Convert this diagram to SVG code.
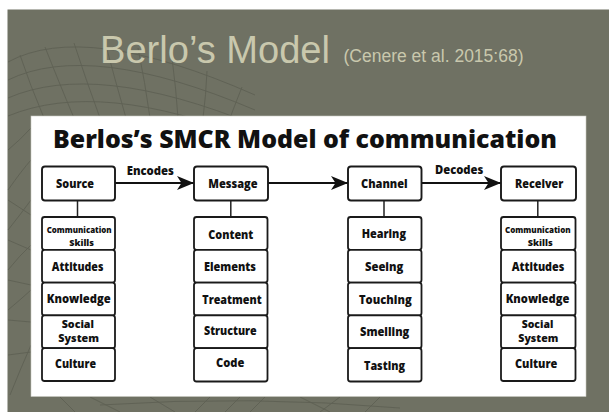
<svg xmlns="http://www.w3.org/2000/svg" width="609" height="412" viewBox="0 0 609 412">
  <defs>
    <style>
      .bg-grid { fill: none; stroke: #585a4e; stroke-width: 0.9; opacity: 0.7; }
      .box { fill: #ffffff; stroke: #1a1a1a; stroke-width: 1.9; }
      .cell { fill: #ffffff; stroke: #1a1a1a; stroke-width: 1.8; }
      .link { fill: none; stroke: #111111; stroke-width: 2.2; }
      .tie { fill: none; stroke: #222222; stroke-width: 1.5; }
      .lbl { font-family: "Open Sans", "Liberation Sans", sans-serif; font-weight: 800; font-size: 11.5px; fill: #111111; }
      .small { font-size: 8.3px; }
      .pair { font-size: 10.2px; }
      .head { font-family: "Liberation Sans", Arial, sans-serif; fill: #c9c8ad; }
    </style>
    <marker id="arrow" markerUnits="userSpaceOnUse" markerWidth="18" markerHeight="16" refX="17" refY="7.5" orient="auto">
      <path d="M0,0.5 L17,7.5 L0,14.5 L4.5,7.5 Z" fill="#111111"/>
    </marker>
  </defs>

  <!-- slide background -->
  <rect x="0" y="0" width="609" height="412" fill="#ffffff"/>
  <rect x="7.5" y="9.5" width="601.5" height="402.5" fill="#6f7163"/>

  <!-- faint globe grid in the background -->
  <g class="bg-grid">
    <path d="M8,62 Q85,20 255,95"/>
    <path d="M8,80 Q90,40 255,110"/>
    <path d="M8,98 Q95,60 255,125"/>
    <path d="M8,116 Q100,78 255,140"/>
    <path d="M20,55 Q30,85 44,118"/>
    <path d="M45,47 Q58,80 74,118"/>
    <path d="M74,43 Q86,80 100,118"/>
    <path d="M105,42 Q115,80 126,118"/>
    <path d="M138,48 Q145,82 150,118"/>
    <path d="M172,58 Q176,88 178,118"/>
    <path d="M207,71 Q206,95 203,118"/>
    <path d="M242,87 Q236,102 230,118"/>
    <path d="M8,150 Q20,140 31,128"/>
    <path d="M8,190 Q22,170 31,160"/>
    <path d="M8,230 Q20,215 31,200"/>
    <path d="M8,270 Q20,255 31,245"/>
    <path d="M8,310 Q20,300 31,290"/>
    <path d="M8,200 L31,215"/>
    <path d="M8,240 L31,250"/>
    <path d="M8,280 L31,285"/>
    <path d="M8,320 L31,322"/>
    <path d="M8,355 L31,352"/>
    <path d="M10,395 Q20,370 31,345"/>
    <path d="M60,397 L75,412"/>
    <path d="M90,397 L120,412"/>
    <path d="M150,397 L175,412"/>
    <path d="M210,397 L195,412"/>
    <path d="M240,397 L225,412"/>
    <path d="M265,397 L250,412"/>
    <path d="M300,397 L330,412"/>
    <path d="M340,397 L320,412"/>
    <path d="M380,397 L365,412"/>
    <path d="M100,405 Q250,395 400,408"/>
  </g>

  <!-- heading -->
  <text class="head" x="100" y="62.5" font-size="38" textLength="230" lengthAdjust="spacingAndGlyphs">Berlo’s Model</text>
  <text class="head" x="343.5" y="61.5" font-size="17.5" textLength="180" lengthAdjust="spacingAndGlyphs">(Cenere et al. 2015:68)</text>

  <!-- white panel -->
  <rect x="31" y="116" width="555" height="280.5" fill="#ffffff" stroke="#c8c8c0" stroke-width="0.6"/>

  <text x="53" y="148.3" font-family="'Open Sans', 'Liberation Sans', sans-serif" font-weight="800" font-size="24.6" fill="#111111" textLength="504" lengthAdjust="spacingAndGlyphs">Berlos’s SMCR Model of communication</text>

  <!-- connectors -->
  <g id="connectors">
    <line class="link" x1="115" y1="183" x2="194" y2="183" marker-end="url(#arrow)"/>
    <line class="link" x1="268" y1="183" x2="348" y2="183" marker-end="url(#arrow)"/>
    <line class="link" x1="421.5" y1="183" x2="501" y2="183" marker-end="url(#arrow)"/>
    <line class="tie" x1="77.5" y1="200.5" x2="77.5" y2="217"/>
    <line class="tie" x1="230.8" y1="200.5" x2="230.8" y2="217"/>
    <line class="tie" x1="384" y1="200.5" x2="384" y2="217"/>
    <line class="tie" x1="537.8" y1="200.5" x2="537.8" y2="217"/>
    <text class="lbl" x="126.7" y="175" textLength="47.3" lengthAdjust="spacingAndGlyphs">Encodes</text>
    <text class="lbl" x="435" y="174.3" textLength="48.3" lengthAdjust="spacingAndGlyphs">Decodes</text>
  </g>

  <!-- Source -->
  <g id="source">
    <rect class="box" x="42" y="166.5" width="73" height="34" rx="3"/>
    <text class="lbl" x="56" y="188.3" textLength="38" lengthAdjust="spacingAndGlyphs">Source</text>
  </g>
  <g id="source-traits">
    <rect class="cell" x="42" y="217" width="73" height="32.8" rx="2.5"/>
    <rect class="cell" x="42" y="249.8" width="73" height="32.8" rx="2.5"/>
    <rect class="cell" x="42" y="282.6" width="73" height="32.8" rx="2.5"/>
    <rect class="cell" x="42" y="315.4" width="73" height="32.8" rx="2.5"/>
    <rect class="cell" x="42" y="348.2" width="73" height="32.8" rx="2.5"/>
    <text class="lbl small"><tspan x="46.7" y="233.3" textLength="65" lengthAdjust="spacingAndGlyphs">Communication</tspan><tspan x="69.3" y="246" textLength="24.7" lengthAdjust="spacingAndGlyphs">Skills</tspan></text>
    <text class="lbl" x="51.7" y="270.7" textLength="51.7" lengthAdjust="spacingAndGlyphs">Attitudes</text>
    <text class="lbl" x="46.7" y="303.3" textLength="64" lengthAdjust="spacingAndGlyphs">Knowledge</text>
    <text class="lbl pair"><tspan x="61.7" y="327.6" textLength="32.3" lengthAdjust="spacingAndGlyphs">Social</tspan><tspan x="58.3" y="342" textLength="40.7" lengthAdjust="spacingAndGlyphs">System</tspan></text>
    <text class="lbl" x="55" y="368.3" textLength="41" lengthAdjust="spacingAndGlyphs">Culture</text>
  </g>

  <!-- Message -->
  <g id="message">
    <rect class="box" x="194" y="166.5" width="74" height="34" rx="3"/>
    <text class="lbl" x="208.3" y="188.3" textLength="49.3" lengthAdjust="spacingAndGlyphs">Message</text>
  </g>
  <g id="message-traits">
    <rect class="cell" x="194" y="217" width="73.5" height="32.8" rx="2.5"/>
    <rect class="cell" x="194" y="249.8" width="73.5" height="32.8" rx="2.5"/>
    <rect class="cell" x="194" y="282.6" width="73.5" height="32.8" rx="2.5"/>
    <rect class="cell" x="194" y="315.4" width="73.5" height="32.8" rx="2.5"/>
    <rect class="cell" x="194" y="348.2" width="73.5" height="33.3" rx="2.5"/>
    <text class="lbl" x="208.3" y="239" textLength="45" lengthAdjust="spacingAndGlyphs">Content</text>
    <text class="lbl" x="204" y="270.7" textLength="52" lengthAdjust="spacingAndGlyphs">Elements</text>
    <text class="lbl" x="202.3" y="304" textLength="59.3" lengthAdjust="spacingAndGlyphs">Treatment</text>
    <text class="lbl" x="204" y="335" textLength="52.7" lengthAdjust="spacingAndGlyphs">Structure</text>
    <text class="lbl" x="216" y="366.7" textLength="28.3" lengthAdjust="spacingAndGlyphs">Code</text>
  </g>

  <!-- Channel -->
  <g id="channel">
    <rect class="box" x="348" y="166.5" width="73.5" height="34" rx="3"/>
    <text class="lbl" x="361" y="188.3" textLength="46.7" lengthAdjust="spacingAndGlyphs">Channel</text>
  </g>
  <g id="channel-traits">
    <rect class="cell" x="348" y="217" width="73.5" height="32.8" rx="2.5"/>
    <rect class="cell" x="348" y="249.8" width="73.5" height="32.8" rx="2.5"/>
    <rect class="cell" x="348" y="282.6" width="73.5" height="32.8" rx="2.5"/>
    <rect class="cell" x="348" y="315.4" width="73.5" height="32.8" rx="2.5"/>
    <rect class="cell" x="348" y="348.2" width="73.5" height="33.3" rx="2.5"/>
    <text class="lbl" x="361.7" y="238.3" textLength="44.3" lengthAdjust="spacingAndGlyphs">Hearing</text>
    <text class="lbl" x="365" y="271" textLength="38.3" lengthAdjust="spacingAndGlyphs">Seeing</text>
    <text class="lbl" x="359" y="304" textLength="52.7" lengthAdjust="spacingAndGlyphs">Touching</text>
    <text class="lbl" x="360" y="336" textLength="49.3" lengthAdjust="spacingAndGlyphs">Smelling</text>
    <text class="lbl" x="364" y="370" textLength="41" lengthAdjust="spacingAndGlyphs">Tasting</text>
  </g>

  <!-- Receiver -->
  <g id="receiver">
    <rect class="box" x="501" y="166.5" width="75" height="34" rx="3"/>
    <text class="lbl" x="515" y="188.3" textLength="48.3" lengthAdjust="spacingAndGlyphs">Receiver</text>
  </g>
  <g id="receiver-traits">
    <rect class="cell" x="501" y="217" width="74.5" height="32.8" rx="2.5"/>
    <rect class="cell" x="501" y="249.8" width="74.5" height="32.8" rx="2.5"/>
    <rect class="cell" x="501" y="282.6" width="74.5" height="32.8" rx="2.5"/>
    <rect class="cell" x="501" y="315.4" width="74.5" height="32.8" rx="2.5"/>
    <rect class="cell" x="501" y="348.2" width="74.5" height="32.8" rx="2.5"/>
    <text class="lbl small"><tspan x="505" y="233.3" textLength="65.7" lengthAdjust="spacingAndGlyphs">Communication</tspan><tspan x="527.7" y="246" textLength="25" lengthAdjust="spacingAndGlyphs">Skills</tspan></text>
    <text class="lbl" x="511.7" y="270.7" textLength="52.6" lengthAdjust="spacingAndGlyphs">Attitudes</text>
    <text class="lbl" x="505.7" y="303.3" textLength="63.6" lengthAdjust="spacingAndGlyphs">Knowledge</text>
    <text class="lbl pair"><tspan x="521.7" y="327.6" textLength="31.6" lengthAdjust="spacingAndGlyphs">Social</tspan><tspan x="518.3" y="342" textLength="40" lengthAdjust="spacingAndGlyphs">System</tspan></text>
    <text class="lbl" x="515" y="368.3" textLength="42.3" lengthAdjust="spacingAndGlyphs">Culture</text>
  </g>
</svg>
